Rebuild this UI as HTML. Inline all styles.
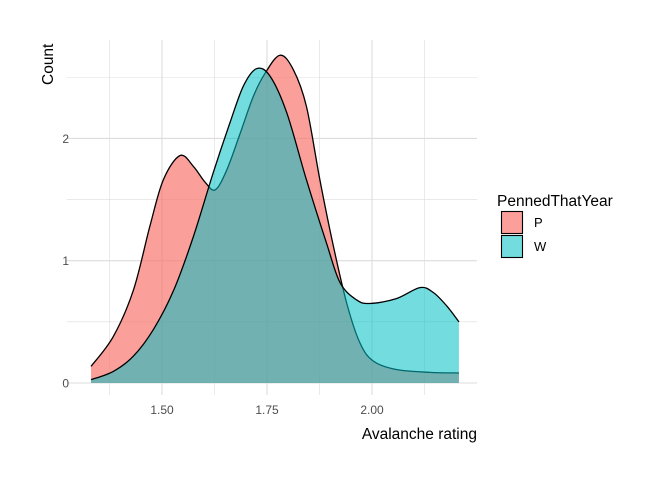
<!DOCTYPE html>
<html><head><meta charset="utf-8"><style>
html,body{margin:0;padding:0;background:#fff;}
svg{display:block;font-family:"Liberation Sans",Arial,sans-serif;}
</style></head><body>
<svg id="chart" width="672" height="480" viewBox="0 0 672 480">
<g id="grid"></g>
<g id="series"></g>
<g id="axes"></g>
<text x="0" y="0" transform="translate(53,85) rotate(-90)" font-size="15.5" fill="#000">Count</text>
<text x="477" y="439" text-anchor="end" font-size="15.5" fill="#000">Avalanche rating</text>
<g>
<text x="497" y="206" font-size="15.5">PennedThatYear</text>
<g><rect x="501.5" y="211.5" width="21" height="22" fill="rgba(248,118,109,0.7)" stroke="#000" stroke-width="1.1"/><text x="534" y="227" font-size="13">P</text></g>
<g><rect x="501.5" y="235.5" width="21" height="22" fill="rgba(0,191,196,0.55)" stroke="#000" stroke-width="1.1"/><text x="534" y="251" font-size="13">W</text></g>
</g>
</svg>
<script>
const xTicks=[1.5,1.75,2.0];
const xTickLabels=["1.50","1.75","2.00"];
const yTicks=[0,1,2];
const yTickLabels=["0","1","2"];
const pX=[1.331,1.384,1.432,1.471,1.503,1.543,1.575,1.603,1.627,1.654,1.686,1.717,1.745,1.781,1.813,1.844,1.876,1.908,1.940,1.971,2.003,2.058,2.138,2.207];
const pY=[0.136,0.38,0.76,1.28,1.66,1.86,1.77,1.64,1.58,1.74,2.04,2.34,2.53,2.68,2.56,2.26,1.66,1.12,0.65,0.33,0.18,0.11,0.087,0.082];
const wX=[1.331,1.384,1.432,1.48,1.528,1.575,1.622,1.662,1.694,1.725,1.757,1.797,1.844,1.892,1.924,1.963,1.995,2.058,2.114,2.146,2.178,2.207];
const wY=[0.027,0.095,0.22,0.44,0.76,1.20,1.72,2.13,2.43,2.57,2.51,2.21,1.66,1.14,0.82,0.68,0.65,0.69,0.78,0.74,0.63,0.50];
const NS="http://www.w3.org/2000/svg";
const PL=67,PR=477,PT=40,PB=395;
function sx(v){return 162+(v-1.5)*420;}
function sy(v){return 383-v*122.3;}
function mk(tag,attrs,parent){const e=document.createElementNS(NS,tag);for(const k in attrs)e.setAttribute(k,attrs[k]);parent.appendChild(e);return e;}
const grid=document.getElementById('grid');
for(let v=1.375;v<=2.2;v+=0.125){const major=Math.abs((v*4)%1)<1e-6;
const l=mk('line',{x1:sx(v),x2:sx(v),y1:PT,y2:PB,stroke:'#dcdcdc','stroke-width':major?1.1:0.6},grid);

}
for(let v=0;v<=2.5;v+=0.5){const major=v%1===0;
const l=mk('line',{x1:PL,x2:PR,y1:sy(v),y2:sy(v),stroke:'#dcdcdc','stroke-width':major?1.1:0.6},grid);

}
function smooth(xs,ys){const pts=xs.map((x,i)=>[sx(x),sy(ys[i])]);let d='M'+pts[0][0]+','+pts[0][1];
for(let i=0;i<pts.length-1;i++){const p0=pts[Math.max(0,i-1)],p1=pts[i],p2=pts[i+1],p3=pts[Math.min(pts.length-1,i+2)];
const c1=[p1[0]+(p2[0]-p0[0])/6,p1[1]+(p2[1]-p0[1])/6],c2=[p2[0]-(p3[0]-p1[0])/6,p2[1]-(p3[1]-p1[1])/6];
d+=' C'+c1[0]+','+c1[1]+' '+c2[0]+','+c2[1]+' '+p2[0]+','+p2[1];}return d;}
const series=document.getElementById('series');
function area(xs,ys,fill,name){const line=smooth(xs,ys);
const a=mk('path',{d:line+' L'+sx(xs[xs.length-1])+','+sy(0)+' L'+sx(xs[0])+','+sy(0)+' Z',fill:fill,stroke:'none'},series);


const l=mk('path',{d:line,fill:'none',stroke:'#000','stroke-width':1.3},series);

}
area(pX,pY,'rgba(248,118,109,0.7)','density-p');
area(wX,wY,'rgba(0,191,196,0.55)','density-w');
const axes=document.getElementById('axes');
xTicks.forEach((v,i)=>{const t=mk('text',{x:sx(v),y:414,'text-anchor':'middle','font-size':12,fill:'#4d4d4d'},axes);t.textContent=xTickLabels[i];

});
yTicks.forEach((v,i)=>{const t=mk('text',{x:69,y:sy(v)+4.5,'text-anchor':'end','font-size':12,fill:'#4d4d4d'},axes);t.textContent=yTickLabels[i];

});
</script>
</body></html>
